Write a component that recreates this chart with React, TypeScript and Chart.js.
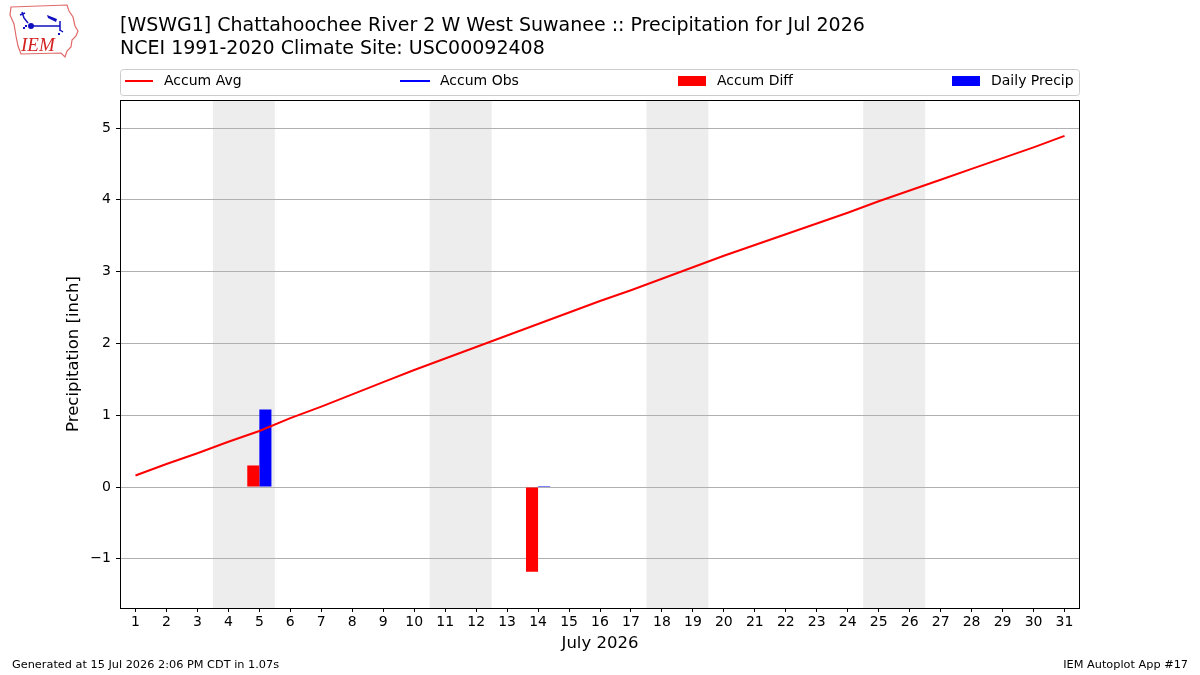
import React, { useEffect, useRef } from "react";
import { Chart, registerables } from "chart.js";

Chart.register(...registerables);

// Days of July 2026
const dayLabels = [
  "1", "2", "3", "4", "5", "6", "7", "8", "9", "10", "11", "12", "13", "14", "15", "16",
  "17", "18", "19", "20", "21", "22", "23", "24", "25", "26", "27", "28", "29", "30", "31",
];

// Climatological accumulated precipitation (inch)
const accumAvg = [
  0.16, 0.32, 0.47, 0.63, 0.78, 0.96, 1.12, 1.29, 1.46, 1.63, 1.79, 1.95, 2.11, 2.27, 2.43, 2.59,
  2.74, 2.90, 3.06, 3.22, 3.37, 3.52, 3.67, 3.82, 3.98, 4.13, 4.28, 4.43, 4.58, 4.73, 4.89,
];

// Observed accumulation (no line drawn)
const accumObs: (number | null)[] = [];

// Accumulated departure on days with precipitation (inch)
const accumDiff: (number | null)[] = [
  null, null, null, null, 0.3, null, null, null, null, null, null, null, null, -1.18, null, null,
  null, null, null, null, null, null, null, null, null, null, null, null, null, null, null,
];

// Daily observed precipitation (inch)
const dailyPrecip: (number | null)[] = [
  null, null, null, null, 1.08, null, null, null, null, null, null, null, null, 0.01, null, null,
  null, null, null, null, null, null, null, null, null, null, null, null, null, null, null,
];

// Weekend day pairs shaded in the background
const weekendSpans = [
  [4, 5],
  [11, 12],
  [18, 19],
  [25, 26],
];

const yTickValues = [-1, 0, 1, 2, 3, 4, 5];

const titleLines = [
  "[WSWG1] Chattahoochee River 2 W West Suwanee :: Precipitation for Jul 2026",
  "NCEI 1991-2020 Climate Site: USC00092408",
];

const FONT = "'DejaVu Sans', Verdana, sans-serif";

function drawLogo(ctx: CanvasRenderingContext2D) {
  ctx.save();
  // state outline
  ctx.strokeStyle = "#e06a6a";
  ctx.lineWidth = 1.2;
  ctx.beginPath();
  const pts = [
    [11, 7], [67, 5], [69, 11], [73, 17], [75, 26], [78, 31], [76, 36], [72, 40], [71, 47],
    [67, 51], [65, 57], [61, 53], [21, 54], [18, 46], [16, 36], [14, 24], [10, 15],
  ];
  ctx.moveTo(pts[0][0], pts[0][1]);
  for (let i = 1; i < pts.length; i++) ctx.lineTo(pts[i][0], pts[i][1]);
  ctx.closePath();
  ctx.stroke();
  // station glyph
  ctx.strokeStyle = "#1010c0";
  ctx.fillStyle = "#1010c0";
  ctx.lineWidth = 1.5;
  ctx.beginPath();
  ctx.moveTo(32, 26);
  ctx.lineTo(60, 26);
  ctx.moveTo(60, 21);
  ctx.lineTo(60, 31);
  ctx.moveTo(60, 30);
  ctx.lineTo(63, 32);
  ctx.moveTo(28, 23);
  ctx.lineTo(24, 18);
  ctx.lineTo(22, 12);
  ctx.moveTo(20, 15);
  ctx.lineTo(25, 13);
  ctx.stroke();
  ctx.beginPath();
  ctx.arc(31, 26, 3, 0, Math.PI * 2);
  ctx.fill();
  ctx.beginPath();
  ctx.moveTo(47, 15);
  ctx.lineTo(57, 19);
  ctx.lineTo(56, 22);
  ctx.lineTo(48, 18);
  ctx.closePath();
  ctx.fill();
  ctx.fillRect(23, 27, 2, 2);
  ctx.fillRect(25, 25, 2, 2);
  ctx.fillRect(58, 33, 2, 2);
  // lettering
  ctx.fillStyle = "#d42020";
  ctx.font = "italic 19px 'Liberation Serif', serif";
  ctx.textAlign = "left";
  ctx.textBaseline = "alphabetic";
  ctx.fillText("IEM", 21, 51);
  ctx.restore();
}

const decorPlugin = {
  id: "decor",
  beforeDraw(chart: any) {
    const { ctx, chartArea, scales } = chart;
    const x = scales.x;
    const step = x.getPixelForValue(1) - x.getPixelForValue(0);
    ctx.save();
    ctx.fillStyle = "#ededed";
    for (const [a, b] of weekendSpans) {
      const x0 = x.getPixelForValue(a - 1) - step / 2;
      const x1 = x.getPixelForValue(b - 1) + step / 2;
      ctx.fillRect(x0, chartArea.top, x1 - x0, chartArea.bottom - chartArea.top);
    }
    ctx.restore();
  },
  afterDraw(chart: any) {
    const { ctx, chartArea } = chart;
    ctx.save();
    // frame
    ctx.strokeStyle = "#000";
    ctx.lineWidth = 1;
    ctx.strokeRect(
      Math.round(chartArea.left) + 0.5,
      Math.round(chartArea.top) + 0.5,
      Math.round(chartArea.right - chartArea.left) - 1,
      Math.round(chartArea.bottom - chartArea.top)
    );

    // titles
    ctx.fillStyle = "#000";
    ctx.textAlign = "left";
    ctx.textBaseline = "alphabetic";
    ctx.font = `19px ${FONT}`;
    ctx.fillText(titleLines[0], 120, 31);
    ctx.fillText(titleLines[1], 120, 54);

    // legend
    ctx.beginPath();
    ctx.roundRect(120.5, 69.5, 959, 26, 3);
    ctx.fillStyle = "rgba(255,255,255,0.8)";
    ctx.fill();
    ctx.strokeStyle = "#cccccc";
    ctx.lineWidth = 1;
    ctx.stroke();
    ctx.font = `14px ${FONT}`;
    ctx.textBaseline = "middle";
    ctx.lineWidth = 2;
    const ly = 81;
    const items = chart.data.datasets;
    const handles = [
      { x0: 125, x1: 153, tx: 164 },
      { x0: 400, x1: 430, tx: 440 },
      { x0: 678, x1: 706, tx: 717 },
      { x0: 952, x1: 980, tx: 991 },
    ];
    items.forEach((ds: any, i: number) => {
      const h = handles[i];
      if (ds.type === "line") {
        ctx.strokeStyle = ds.borderColor;
        ctx.beginPath();
        ctx.moveTo(h.x0, ly);
        ctx.lineTo(h.x1, ly);
        ctx.stroke();
      } else {
        ctx.fillStyle = ds.backgroundColor;
        ctx.fillRect(h.x0, ly - 5, h.x1 - h.x0, 10);
      }
      ctx.fillStyle = "#000";
      ctx.fillText(ds.label, h.tx, ly + 0.5);
    });

    // axis titles
    ctx.font = `16.5px ${FONT}`;
    ctx.textAlign = "center";
    ctx.textBaseline = "middle";
    ctx.fillText("July 2026", (chartArea.left + chartArea.right) / 2, 644);
    ctx.save();
    ctx.translate(74, (chartArea.top + chartArea.bottom) / 2);
    ctx.rotate(-Math.PI / 2);
    ctx.fillText("Precipitation [inch]", 0, 0);
    ctx.restore();

    // footer
    ctx.font = `11.3px ${FONT}`;
    ctx.textBaseline = "middle";
    ctx.textAlign = "left";
    ctx.fillText("Generated at 15 Jul 2026 2:06 PM CDT in 1.07s", 12, 665);
    ctx.textAlign = "right";
    ctx.fillText("IEM Autoplot App #17", 1188, 665);

    drawLogo(ctx);
    ctx.restore();
  },
};

export default function App() {
  const canvasRef = useRef<HTMLCanvasElement | null>(null);

  useEffect(() => {
    document.body.style.margin = "0";
    const canvas = canvasRef.current;
    if (!canvas) return;
    const chart = new Chart(canvas, {
      type: "bar",
      data: {
        labels: dayLabels,
        datasets: [
          {
            type: "line",
            label: "Accum Avg",
            data: accumAvg,
            borderColor: "#ff0000",
            backgroundColor: "#ff0000",
            borderWidth: 2,
            pointRadius: 0,
            tension: 0,
          },
          {
            type: "line",
            label: "Accum Obs",
            data: accumObs,
            borderColor: "#0000ff",
            backgroundColor: "#0000ff",
            borderWidth: 2,
            pointRadius: 0,
          },
          {
            type: "bar",
            label: "Accum Diff",
            data: accumDiff,
            backgroundColor: "#ff0000",
            borderWidth: 0,
            barPercentage: 1,
            categoryPercentage: 0.78,
          },
          {
            type: "bar",
            label: "Daily Precip",
            data: dailyPrecip,
            backgroundColor: "#0000ff",
            borderWidth: 0,
            barPercentage: 1,
            categoryPercentage: 0.78,
            minBarLength: 1,
          },
        ] as any,
      },
      options: {
        responsive: false,
        animation: false,
        devicePixelRatio: 1,
        layout: { padding: { left: 0, right: 120, top: 100, bottom: 0 } },
        plugins: {
          legend: { display: false },
          title: { display: false },
          tooltip: { enabled: false },
        },
        scales: {
          x: {
            type: "category",
            offset: true,
            grid: {
              offset: false,
              drawOnChartArea: false,
              drawTicks: true,
              tickLength: 4,
              tickColor: "#000",
              tickWidth: 1,
            },
            border: { display: false },
            ticks: {
              color: "#000",
              font: { family: FONT, size: 14 },
              padding: 2,
              maxRotation: 0,
              autoSkip: false,
            },
            afterFit: (s: any) => {
              s.height = 67;
            },
          },
          y: {
            type: "linear",
            min: -1.685,
            max: 5.39,
            grid: {
              color: "#b0b0b0",
              lineWidth: 1,
              drawTicks: true,
              tickLength: 4,
              tickColor: "#000",
            },
            border: { display: false },
            ticks: {
              color: "#000",
              font: { family: FONT, size: 14 },
              padding: 5,
              callback: (v: any) => (v < 0 ? "\u2212" + Math.abs(v) : String(v)),
            },
            afterBuildTicks: (s: any) => {
              s.ticks = yTickValues.map((v) => ({ value: v }));
            },
            afterFit: (s: any) => {
              s.width = 120;
            },
          },
        },
      },
      plugins: [decorPlugin],
    });
    return () => chart.destroy();
  }, []);

  return (
    <div style={{ position: "absolute", left: 0, top: 0, width: 1200, height: 675, background: "#fff" }}>
      <canvas ref={canvasRef} width={1200} height={675} style={{ display: "block" }} />
    </div>
  );
}
